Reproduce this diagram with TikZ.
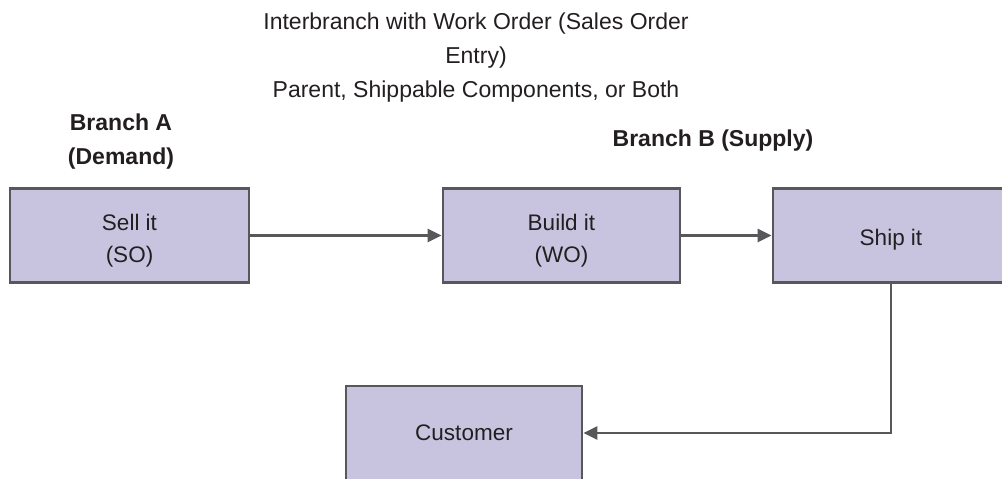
\documentclass[tikz,border=0pt]{standalone}
\usepackage{fontspec}
\setmainfont{Liberation Sans}
\usetikzlibrary{arrows.meta}

\definecolor{boxfill}{RGB}{200,196,224}
\definecolor{boxline}{RGB}{88,88,90}
\definecolor{txtcol}{RGB}{35,31,32}

\tikzset{
	stepbox/.style={draw=boxline, line width=2.8pt, fill=boxfill, minimum width=236pt, minimum height=94pt, align=center, font=\fontsize{22.5}{32}\selectfont, text=txtcol},
	flow/.style={draw=boxline, line width=2.4pt, -{Triangle[length=14pt,width=13pt]}},
	branch/.style={align=center, font=\fontsize{23}{34}\selectfont\bfseries, text=txtcol}
}

\begin{document}
\begin{tikzpicture}[x=1pt,y=1pt,yscale=-1,xscale=1]
			\useasboundingbox (0,0) rectangle (1002,479);
			\clip (0,0) rectangle (1002,479);
			
			\node (title) at (476,58) [align=center, font=\fontsize{23}{34}\selectfont, text=txtcol] {Interbranch with Work Order (Sales Order\\Entry)\\Parent, Shippable Components, or Both};
			\node (branchA) at (121,142) [branch] {Branch A\\(Demand)};
			\node (branchB) at (713,141) [branch] {Branch B (Supply)};
			
			\node (sell) at (129.5,235.5) [stepbox, minimum width=239pt, text height=58pt, text depth=5pt] {Sell it\\(SO)};
			\node (build) at (561.5,235.5) [stepbox, minimum width=237pt, text height=58pt, text depth=5pt] {Build it\\(WO)};
			\node (ship) at (891,235.5) [stepbox, text height=24pt, text depth=4pt] {Ship it};
			\node (customer) at (464,433) [stepbox] {Customer};
			
			\coordinate (turn) at (ship.south |- customer.east);
			\draw[flow] (sell) -- (build);
			\draw[flow] (build) -- (ship);
			\draw[flow] (ship.south) -- (turn) -- (customer.east);
			\end{tikzpicture}
\end{document}
